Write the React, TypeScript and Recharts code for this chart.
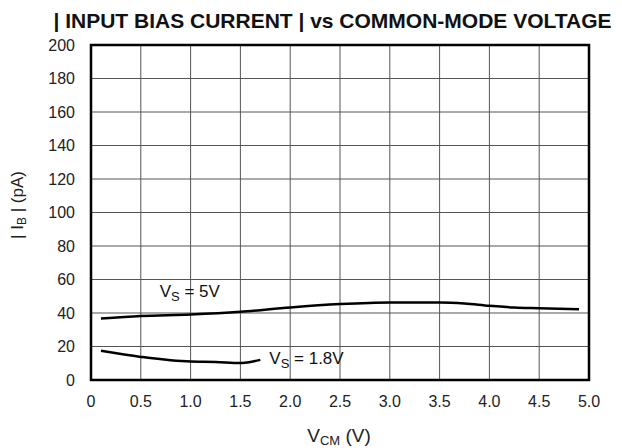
import React from "react";
import { LineChart, Line, XAxis, YAxis, CartesianGrid, ReferenceArea, ReferenceDot } from "recharts";

const xTicks = [0, 0.5, 1.0, 1.5, 2.0, 2.5, 3.0, 3.5, 4.0, 4.5, 5.0];
const yTicks = [0, 20, 40, 60, 80, 100, 120, 140, 160, 180, 200];

const vcm5V = [0.1, 0.5, 1.0, 1.5, 2.0, 2.5, 3.0, 3.5, 3.75, 4.0, 4.25, 4.5, 4.9];
const ib5V = [36.7, 38.2, 39.1, 40.7, 43.3, 45.3, 46.3, 46.3, 45.7, 44.3, 43.3, 42.9, 42.3];

const vcm18V = [0.1, 0.5, 1.0, 1.25, 1.5, 1.6, 1.7];
const ib18V = [17.4, 13.8, 11.0, 10.8, 10.2, 10.8, 12.0];

const series5V = vcm5V.map((v, i) => ({ x: v, y: ib5V[i] }));
const series18V = vcm18V.map((v, i) => ({ x: v, y: ib18V[i] }));

const FONT = "'Liberation Sans', Arial, sans-serif";

const VsLabel = (text: string) => (props: any) => {
  const { viewBox } = props;
  const x = viewBox ? viewBox.x : props.x;
  const y = viewBox ? viewBox.y : props.y;
  return (
    <text x={x} y={y} fontFamily={FONT} fontSize={17} fill="#111" dominantBaseline="middle">
      <tspan>V</tspan>
      <tspan fontSize={13} dy={5}>S</tspan>
      <tspan dy={-5}>{" = " + text}</tspan>
    </text>
  );
};

const YLabel = () => {
  const cx = 19;
  const cy = 205;
  return (
    <text x={cx} y={cy} transform={`rotate(-90 ${cx} ${cy})`} textAnchor="middle" fontFamily={FONT} fontSize={17} fill="#222" dominantBaseline="middle">
      <tspan>| I</tspan>
      <tspan fontSize={12} dy={4}>B</tspan>
      <tspan dy={-4}> | (pA)</tspan>
    </text>
  );
};

const XLabel = (props: any) => {
  const { viewBox } = props;
  const cx = viewBox.x + viewBox.width / 2 - 1;
  return (
    <text x={cx} y={442} textAnchor="middle" fontFamily={FONT} fontSize={19} fill="#222">
      <tspan>V</tspan>
      <tspan fontSize={13} dy={3}>CM</tspan>
      <tspan dy={-3}> (V)</tspan>
    </text>
  );
};

export default function App() {
  return (
    <div style={{ position: "absolute", left: 0, top: 0, width: 622, height: 448, background: "#fff" }}>
      <div style={{ position: "absolute", left: 0, top: 9, width: 622, textAlign: "center", fontFamily: FONT, fontWeight: "bold", fontSize: 21, color: "#111", paddingLeft: 43, boxSizing: "border-box", lineHeight: "24px", whiteSpace: "nowrap" }}>
        | INPUT BIAS CURRENT | vs COMMON-MODE VOLTAGE
      </div>
      <LineChart width={622} height={448} margin={{ top: 45, right: 33, bottom: 0, left: 0 }}>
        <CartesianGrid stroke="#555" strokeWidth={1} />
        <XAxis
          type="number"
          dataKey="x"
          domain={[0, 5]}
          ticks={xTicks}
          tickFormatter={(v: number) => (v === 0 ? "0" : v.toFixed(1))}
          height={68}
          axisLine={false}
          tickLine={false}
          tick={{ fontFamily: FONT, fontSize: 16, fill: "#222" }}
          tickMargin={10}
          interval={0}
          allowDataOverflow
          label={<XLabel />}
        />
        <YAxis
          type="number"
          domain={[0, 200]}
          ticks={yTicks}
          width={91}
          axisLine={false}
          tickLine={false}
          tick={{ fontFamily: FONT, fontSize: 16, fill: "#222" }}
          tickMargin={10}
          interval={0}
          label={<YLabel />}
        />
        <ReferenceArea x1={0} x2={5} y1={0} y2={200} fill="none" stroke="#000" strokeWidth={2.5} ifOverflow="visible" />
        <Line data={series5V} dataKey="y" type="monotone" stroke="#000" strokeWidth={2.5} dot={false} isAnimationActive={false} />
        <Line data={series18V} dataKey="y" type="monotone" stroke="#000" strokeWidth={2.5} dot={false} isAnimationActive={false} />
        <ReferenceDot x={0.69} y={52} r={0} fill="none" stroke="none" label={VsLabel("5V")} />
        <ReferenceDot x={1.79} y={12} r={0} fill="none" stroke="none" label={VsLabel("1.8V")} />
      </LineChart>
    </div>
  );
}
